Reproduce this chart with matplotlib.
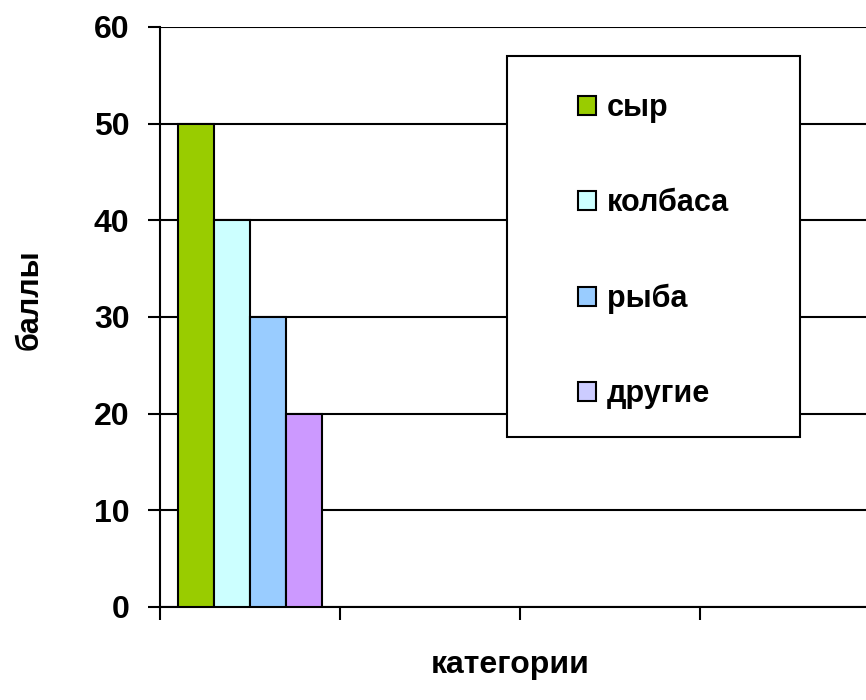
import matplotlib.pyplot as plt
import numpy as np
from matplotlib.patches import Rectangle, Patch

plt.rcParams['font.family'] = ['Liberation Sans', 'DejaVu Sans']
plt.rcParams['font.weight'] = 'bold'

# data: only the first category slot has bars
n_categories = 4
series = ['сыр', 'колбаса', 'рыба', 'другие']
values = [50, 40, 30, 20]
colors = ['#99CC00', '#CCFFFF', '#99CCFF', '#CC99FF']
legend_colors = ['#99CC00', '#CCFFFF', '#99CCFF', '#CCCCFF']

fig = plt.figure(figsize=(8.66, 7), dpi=100)
ax = fig.add_axes([160/866, 93/700, 720/866, 580/700])

bar_w = 0.2
offsets = (np.arange(len(series)) - (len(series) - 1) / 2) * bar_w
for off, v, c, name in zip(offsets, values, colors, series):
    ax.bar(0 + off, v, width=bar_w, color=c, edgecolor='black', linewidth=1.5,
           label=name, zorder=3)

ax.set_xlim(-0.5, n_categories - 0.5)
ax.set_ylim(0, 60)
ax.set_yticks(range(0, 61, 10))
ax.set_xticks(np.arange(n_categories + 1) - 0.5)
ax.set_xticklabels([])
ax.yaxis.grid(True, color='black', linewidth=1.5, zorder=0)
ax.set_axisbelow(True)
ax.tick_params(axis='both', direction='out', length=9, width=1.5, color='black')
ax.tick_params(axis='y', labelsize=23, pad=13)
for lbl in ax.get_yticklabels():
    lbl.set_fontweight('bold')
for s in ['top', 'right']:
    ax.spines[s].set_visible(False)
for s in ['left', 'bottom']:
    ax.spines[s].set_linewidth(1.5)

fig.text(30/866, 1 - 300/700, 'баллы', rotation=90, ha='center', va='center',
         fontsize=22, fontweight='bold')
fig.text(510/866, 1 - 665/700, 'категории', ha='center', va='center',
         fontsize=23, fontweight='bold')

# legend box
fig.patches.append(Rectangle((507/866, 1 - 437/700), 293/866, 381/700,
                             transform=fig.transFigure, facecolor='white',
                             edgecolor='black', linewidth=1.5, zorder=5))
handles = [Patch(facecolor=c, edgecolor='black', linewidth=1.5) for c in legend_colors]
leg = fig.legend(handles, series, loc='upper left',
                 bbox_to_anchor=(578/866, 1 - 93/700), frameon=False,
                 prop={'weight': 'bold', 'size': 22}, labelspacing=2.14,
                 handlelength=0.6, handleheight=0.6, handletextpad=0.35,
                 borderpad=0, borderaxespad=0)
leg.set_zorder(6)

fig.savefig('out.png', dpi=100)
